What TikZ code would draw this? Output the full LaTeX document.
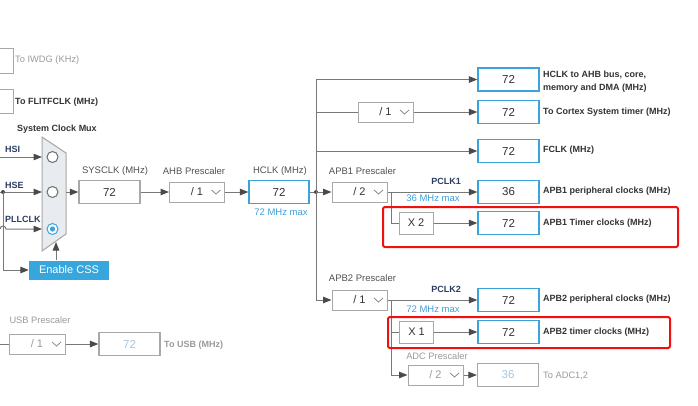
\documentclass[tikz,border=0pt]{standalone}
\usepackage{fontspec}
\setmainfont{Liberation Sans}
\usetikzlibrary{arrows.meta}
\definecolor{boxblue}{HTML}{3AA3D9}
\definecolor{cssblue}{HTML}{36A6DD}
\definecolor{linegrey}{HTML}{787878}
\definecolor{arrowdark}{HTML}{4A4A4A}
\definecolor{boxgrey}{HTML}{A8A8A8}
\definecolor{txt}{HTML}{333333}
\definecolor{bluetxt}{HTML}{3CA0DC}
\definecolor{navy}{HTML}{2C3E63}
\definecolor{distxt}{HTML}{9A9A9A}
\definecolor{disval}{HTML}{A9C6DE}
\definecolor{muxfill}{HTML}{E8ECF0}
\definecolor{chevgrey}{HTML}{8A8A8A}
\definecolor{hlred}{HTML}{F01010}
\newcommand\prtext[1]{\makebox[36pt][c]{#1}\hspace{19pt}}
\newcommand\chev[2][chevgrey]{\draw[#1, line width=0.8pt] ([xshift=-13.5pt,yshift=2pt]#2.east) -- ++(4.5,4) -- ++(4.5,-4);}
\begin{document}
\begin{tikzpicture}[x=1pt,y=-1pt,
  line/.style={draw=linegrey, line width=1pt},
  arr/.style={line, -{Triangle[length=8.5pt,width=6.5pt,color=arrowdark]}},
  vbox/.style={draw=boxblue, line width=1.2pt, minimum width=61pt, minimum height=23pt, inner sep=0pt, text=txt, font=\fontsize{11.5}{13}\selectfont},
  gvbox/.style={vbox, draw=boxgrey, text=disval},
  pbox/.style={draw=boxgrey, line width=1pt, minimum width=55pt, minimum height=20pt, inner sep=0pt, text=txt, font=\fontsize{11}{13}\selectfont},
  gpbox/.style={pbox, text=distxt},
  xbox/.style={pbox, minimum width=34pt, minimum height=22pt},
  lbl/.style={font=\fontsize{9}{13}\selectfont\bfseries, text=txt, inner sep=0pt},
  glbl/.style={font=\fontsize{9.3}{13}\selectfont, text=distxt, inner sep=0pt},
  plbl/.style={font=\fontsize{9.5}{11}\selectfont, text=txt!85, inner sep=0pt},
  bluelbl/.style={font=\fontsize{9.5}{11}\selectfont, text=bluetxt, inner sep=0pt},
  navylbl/.style={font=\fontsize{9}{11}\selectfont\bfseries, text=navy, inner sep=0pt},
  css/.style={fill=cssblue, text=white, minimum width=80pt, minimum height=19pt, inner sep=0pt, font=\fontsize{11}{13}\selectfont},
  hl/.style={draw=hlred, line width=2pt, rounded corners=2pt}
]
\useasboundingbox (0,0) rectangle (698,405);
\fill[white] (0,0) rectangle (698,405);
\clip (0,0) rectangle (698,405);

% top-left partial boxes
\node[draw=boxgrey, line width=1pt, minimum width=30pt, minimum height=25pt, inner sep=0pt] (iwdg) at (-2,60.5) {};
\node[glbl, anchor=west] at (15,60) {To IWDG (KHz)};
\node[draw=boxgrey, line width=1pt, minimum width=30pt, minimum height=24pt, inner sep=0pt] (flit) at (-2,101) {};
\node[lbl, anchor=west] at (15,102) {To FLITFCLK (MHz)};

% system clock mux
\node[lbl] at (57,129) {System Clock Mux};
\draw[draw=boxgrey, fill=muxfill, line width=1pt] (42,137) -- (66,153) -- (66,234) -- (42,251) -- cycle;
\draw[draw=arrowdark!80, fill=white, line width=1pt] (52.5,157) circle (5.5pt);
\draw[draw=arrowdark!80, fill=white, line width=1pt] (52.5,192) circle (5.5pt);
\draw[draw=boxblue, fill=white, line width=1pt] (52.5,229) circle (5.5pt);
\fill[boxblue] (52.5,229) circle (2.6pt);
\coordinate (m1) at (42,157);
\coordinate (m2) at (42,192);
\coordinate (m3) at (42,229);
\coordinate (mout) at (66,192);
\coordinate (mbot) at (56,242);

\coordinate (hsiin) at (0,157);
\coordinate (hsein) at (0,192);
\coordinate (hsedot) at (3,192);
\coordinate (pllin) at (0,229);
\node[navylbl, anchor=west] at (5,149) {HSI};
\node[navylbl, anchor=west] at (5,185) {HSE};
\node[navylbl, anchor=west] at (5,219) {PLLCLK};
\draw[arr] (hsiin) -- (m1);
\draw[arr] (hsein) -- (m2);
\fill[arrowdark] (hsedot) circle (2pt);
\draw[arr] (pllin) arc[start angle=180, end angle=0, radius=3pt] -- (m3);

\node[css] (css) at (69,270) {Enable CSS};
\draw[arr] (hsedot) |- (css.west);
\draw[arr] (css.north -| mbot) -- (mbot);

% main chain
\node[vbox, draw=boxgrey] (sysclk) at (109.5,192) {72};
\node[plbl] at (115,171) {SYSCLK (MHz)};
\draw[arr] (mout) -- (sysclk.west);
\node[pbox] (ahbp) at (197,192) {\prtext{/ 1}};
\chev{ahbp}
\node[plbl] at (194,171) {AHB Prescaler};
\draw[arr] (sysclk.east) -- (ahbp.west);
\node[vbox, minimum width=60pt] (hclk) at (279,192) {72};
\node[plbl] at (280,171) {HCLK (MHz)};
\node[bluelbl] at (281,212) {72 MHz max};
\draw[arr] (ahbp.east) -- (hclk.west);

\coordinate (hdot) at (316,192);
\draw[line] (hclk.east) -- (hdot);
\fill[arrowdark] (hdot) circle (2pt);

% right column outputs
\node[vbox] (ahb) at (508.5,79.5) {72};
\node[lbl, anchor=west, align=left] at (543,81.5) {HCLK to AHB bus, core,\\memory and DMA (MHz)};
\node[vbox] (cortex) at (508.5,112) {72};
\node[lbl, anchor=west] at (543,112) {To Cortex System timer (MHz)};
\node[vbox] (fclk) at (508.5,151) {72};
\node[lbl, anchor=west] at (543,150.5) {FCLK (MHz)};
\node[vbox] (apb1o) at (508.5,192) {36};
\node[lbl, anchor=west] at (543,191.5) {APB1 peripheral clocks (MHz)};
\node[vbox] (apb1t) at (508.5,223) {72};
\node[lbl, anchor=west] at (543,223) {APB1 Timer clocks (MHz)};
\node[vbox] (apb2o) at (508.5,300) {72};
\node[lbl, anchor=west] at (543,299.5) {APB2 peripheral clocks (MHz)};
\node[vbox] (apb2t) at (508.5,332) {72};
\node[lbl, anchor=west] at (543,332) {APB2 timer clocks (MHz)};
\node[gvbox] (adco) at (508,375) {36};
\node[glbl, anchor=west] at (543,376) {To ADC1,2};

% bus branches
\draw[arr] (hdot) |- (ahb.west);
\node[pbox] (cortexp) at (385.5,112) {\prtext{/ 1}};
\chev{cortexp}
\draw[line] (hdot) |- (cortexp.west);
\draw[arr] (cortexp.east) -- (cortex.west);
\draw[arr] (hdot) |- (fclk.west);

% APB1
\node[pbox] (apb1p) at (359.5,192) {\prtext{/ 2}};
\chev{apb1p}
\node[plbl] at (362.5,171) {APB1 Prescaler};
\draw[arr] (hdot) -- (apb1p.west);
\draw[arr] (apb1p.east) -- (apb1o.west);
\node[navylbl] at (446,181) {PCLK1};
\node[bluelbl] at (433,198.5) {36 MHz max};
\coordinate (b1) at (391,192);
\node[xbox] (x2) at (416,223) {X 2};
\draw[line] (b1) |- (x2.west);
\draw[arr] (x2.east) -- (apb1t.west);

% APB2
\node[pbox] (apb2p) at (359.5,300) {\prtext{/ 1}};
\chev{apb2p}
\node[plbl] at (362.5,278) {APB2 Prescaler};
\draw[arr] (hdot) |- (apb2p.west);
\draw[arr] (apb2p.east) -- (apb2o.west);
\node[navylbl] at (446,289) {PCLK2};
\node[bluelbl] at (433,309.5) {72 MHz max};
\coordinate (b2) at (391,300);
\node[xbox] (x1) at (416.5,332) {X 1};
\draw[line] (b2) |- (x1.west);
\draw[arr] (x1.east) -- (apb2t.west);
\node[gpbox] (adcp) at (435.5,375) {\prtext{/ 2}};
\chev{adcp}
\node[glbl] at (437,356) {ADC Prescaler};
\draw[arr] (b2) |- (adcp.west);
\draw[arr] (adcp.east) -- (adco.west);

% USB
\coordinate (usbin) at (0,344);
\node[gpbox, minimum width=56pt] (usbp) at (37,344) {\prtext{/ 1}};
\chev{usbp}
\node[glbl] at (40,320) {USB Prescaler};
\draw[line] (usbin) -- (usbp.west);
\node[gvbox] (usbo) at (129.5,344) {72};
\node[glbl, font=\fontsize{9}{11}\selectfont\bfseries, anchor=west] at (164,345) {To USB (MHz)};
\draw[arr] (usbp.east) -- (usbo.west);

% highlights
\draw[hl] (383,207) rectangle (678,247);
\draw[hl] (388,317) rectangle (670,348);
\end{tikzpicture}
\end{document}
